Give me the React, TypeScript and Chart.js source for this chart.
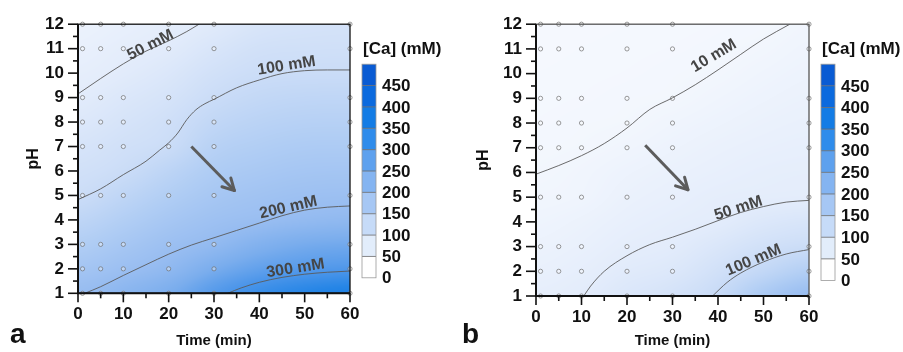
import React, { useEffect, useRef } from 'react';
import { Chart, registerables } from 'chart.js';
Chart.register(...registerables);

const FONT = "'Liberation Sans', Arial, Helvetica, sans-serif";

// ---- data ----
const sampleTimes = [1, 5, 10, 20, 30, 60];
const samplePH = [1, 2, 3, 5, 7, 8, 9, 11, 12];

const xTickValues = [0, 10, 20, 30, 40, 50, 60];
const yTickValues = [1, 2, 3, 4, 5, 6, 7, 8, 9, 10, 11, 12];

const fieldTimes = [0, 10, 20, 30, 40, 50, 60];
const fieldPH = [1, 2, 3, 4, 5, 6, 7, 8, 9, 10, 11, 12];

// [Ca] (mM), rows = pH 1..12, columns = time 0..60
const fieldA = [
  [200, 222, 248, 292, 325, 348, 362],
  [174, 193, 214, 250, 278, 293, 300],
  [148, 169, 191, 210, 236, 253, 259],
  [122, 145, 169, 187, 198, 208, 214],
  [98, 121, 147, 169, 181, 189, 192],
  [86, 99, 125, 152, 164, 172, 174],
  [75, 87, 100, 134, 147, 155, 156],
  [63, 76, 90, 116, 130, 137, 138],
  [52, 65, 78, 99, 113, 119, 120],
  [43, 53, 66, 85, 97, 100, 101],
  [35, 45, 54, 71, 85, 88, 89],
  [28, 37, 46, 57, 72, 78, 80],
];

const fieldB = [
  [42, 50, 66, 80, 105, 160, 200],
  [34, 42, 55, 64, 86, 115, 145],
  [27, 34, 45, 52, 68, 86, 98],
  [20, 27, 37, 44, 51, 64, 72],
  [14, 18, 30, 37, 44, 47, 49],
  [10, 15, 24, 31, 37, 42, 44],
  [8, 10, 16, 24, 31, 36, 39],
  [6, 8, 10, 17, 24, 30, 34],
  [5, 6, 8, 10, 17, 24, 29],
  [4, 5, 6, 8, 11, 18, 24],
  [3, 4, 5, 6, 8, 12, 19],
  [2, 3, 4, 5, 6, 8, 14],
];

const cmapValues = [0, 50, 100, 150, 200, 250, 300, 350, 400, 500];
const cmapColors = ['#f6f9fe', '#e3ecfb', '#cadcf7', '#b0cdf4', '#98bdf1', '#7aaded', '#4f97ea', '#2585e6', '#0f74df', '#075ed4'];

const colorbarLevels = [0, 50, 100, 150, 200, 250, 300, 350, 400, 450, 500];
const colorbarColors = ['#ffffff', '#e2edfb', '#c6dbf8', '#a6c7f4', '#84b4f1', '#5ea1ee', '#2f8ceb', '#137ce5', '#0b6ade', '#095bd3'];
const colorbarTickLabels = ['0', '50', '100', '150', '200', '250', '300', '350', '400', '450'];

// contour lines (time, pH)
const contourA50 = [[0, 9.15], [5, 9.78], [10, 10.38], [15, 10.9], [20, 11.32], [24, 11.7], [26.7, 12]];
const contourA100 = [[0, 4.83], [5, 5.27], [10, 5.85], [15, 6.4], [18, 6.85], [20, 7.15], [22, 7.55], [24, 8.1], [26, 8.5], [28, 8.75], [30, 8.93], [35, 9.4], [40, 9.72], [45, 9.98], [50, 10.1], [55, 10.13], [60, 10.13]];
const contourA200 = [[1.5, 1], [5, 1.27], [10, 1.73], [15, 2.17], [20, 2.6], [25, 2.97], [30, 3.27], [35, 3.57], [40, 3.87], [45, 4.17], [50, 4.4], [55, 4.52], [60, 4.57]];
const contourA300 = [[33, 1], [36, 1.22], [40, 1.45], [45, 1.65], [50, 1.78], [55, 1.86], [60, 1.91]];

const contourB10 = [[0, 5.93], [5, 6.28], [10, 6.68], [15, 7.17], [20, 7.8], [25, 8.55], [30, 9.02], [35, 9.55], [40, 10.15], [45, 10.78], [50, 11.4], [55.8, 12]];
const contourB50 = [[10.5, 1], [12, 1.4], [15, 2.0], [20, 2.63], [25, 3.08], [30, 3.38], [35, 3.7], [40, 4.05], [45, 4.38], [50, 4.62], [55, 4.8], [60, 4.87]];
const contourB100 = [[38.8, 1], [42, 1.55], [45, 1.93], [50, 2.38], [55, 2.7], [60, 2.88]];

const contourLabelsA = ['50 mM', '100 mM', '200 mM', '300 mM'];
const contourLabelsB = ['10 mM', '50 mM', '100 mM'];
// anchor (time, pH) and rotation of each contour label
const labelAnchorsA = [[16.0, 11.15, -27], [46.0, 10.3, -9], [46.4, 4.5, -13], [48, 2.02, -9]];
const labelAnchorsB = [[39.1, 10.72, -31], [44.5, 4.55, -18], [47.8, 2.45, -23]];

const arrowA = [[25, 7.0], [34.5, 5.2]];
const arrowB = [[24, 7.1], [33.4, 5.3]];

// ---- helpers ----
const hexToRgb = (h: string) => {
  const n = parseInt(h.slice(1), 16);
  return [(n >> 16) & 255, (n >> 8) & 255, n & 255];
};
const cmapRGB = cmapColors.map(hexToRgb);

function colorFor(v: number) {
  if (v <= cmapValues[0]) return cmapRGB[0];
  for (let i = 0; i < cmapValues.length - 1; i++) {
    if (v <= cmapValues[i + 1]) {
      const f = (v - cmapValues[i]) / (cmapValues[i + 1] - cmapValues[i]);
      const a = cmapRGB[i], b = cmapRGB[i + 1];
      return [a[0] + (b[0] - a[0]) * f, a[1] + (b[1] - a[1]) * f, a[2] + (b[2] - a[2]) * f];
    }
  }
  return cmapRGB[cmapRGB.length - 1];
}

function locate(arr: number[], v: number): [number, number] {
  let i = 0;
  while (i < arr.length - 2 && v > arr[i + 1]) i++;
  const f = Math.min(1, Math.max(0, (v - arr[i]) / (arr[i + 1] - arr[i])));
  return [i, f];
}

const clampI = (k: number, n: number) => Math.max(0, Math.min(n - 1, k));
const cr = (p0: number, p1: number, p2: number, p3: number, t: number) =>
  0.5 * (2 * p1 + (-p0 + p2) * t + (2 * p0 - 5 * p1 + 4 * p2 - p3) * t * t + (-p0 + 3 * p1 - 3 * p2 + p3) * t * t * t);

function sampleField(field: number[][], t: number, p: number) {
  const [ti, tf] = locate(fieldTimes, t);
  const [pi, pf] = locate(fieldPH, p);
  const nR = field.length, nC = field[0].length;
  const row = (r: number) => {
    const R = field[clampI(r, nR)];
    const c = (k: number) => R[clampI(k, nC)];
    return cr(c(ti - 1), c(ti), c(ti + 1), c(ti + 2), tf);
  };
  return cr(row(pi - 1), row(pi), row(pi + 1), row(pi + 2), pf);
}

const toXY = (arr: number[][]) => arr.map(([x, y]) => ({ x, y }));

type PanelCfg = {
  field: number[][];
  contours: number[][][];
  labels: string[];
  anchors: number[][];
  arrow: number[][];
  letter: string;
  letterX: number;
  area: { left: number; right: number; top: number; bottom: number };
  pHPad: number;
  frameColor: string;
};

function makeChart(canvas: HTMLCanvasElement, cfg: PanelCfg) {
  const points: { x: number; y: number }[] = [];
  for (const p of samplePH) for (const t of sampleTimes) points.push({ x: t, y: p });

  const lay = {
    yW: cfg.area.left,
    xH: canvas.height - cfg.area.bottom,
    top: cfg.area.top,
    right: canvas.width - cfg.area.right,
  };

  const datasets: any[] = [
    {
      type: 'scatter',
      data: points,
      pointRadius: 2.1,
      pointBorderWidth: 0.7,
      pointBorderColor: '#707070',
      pointBackgroundColor: 'rgba(255,255,255,0.35)',
      clip: false,
      order: 3,
    },
    ...cfg.contours.map((c) => ({
      type: 'line',
      data: toXY(c),
      borderColor: '#5a5a5a',
      borderWidth: 0.9,
      pointRadius: 0,
      cubicInterpolationMode: 'monotone',
      fill: false,
      order: 2,
    })),
    {
      type: 'line',
      data: toXY(cfg.arrow),
      borderColor: '#5c5c5c',
      borderWidth: 3,
      pointRadius: 0,
      fill: false,
      order: 1,
    },
  ];

  const fieldPlugin = {
    id: 'field',
    beforeDatasetsDraw(chart: any) {
      const { ctx, chartArea } = chart;
      const xs = chart.scales.x, ys = chart.scales.y;
      const w = Math.round(chartArea.right - chartArea.left);
      const h = Math.round(chartArea.bottom - chartArea.top);
      const off = document.createElement('canvas');
      off.width = w; off.height = h;
      const octx = off.getContext('2d')!;
      const img = octx.createImageData(w, h);
      for (let j = 0; j < h; j++) {
        const p = ys.getValueForPixel(chartArea.top + j + 0.5);
        for (let i = 0; i < w; i++) {
          const t = xs.getValueForPixel(chartArea.left + i + 0.5);
          const c = colorFor(sampleField(cfg.field, t, p));
          const k = (j * w + i) * 4;
          img.data[k] = c[0]; img.data[k + 1] = c[1]; img.data[k + 2] = c[2]; img.data[k + 3] = 255;
        }
      }
      octx.putImageData(img, 0, 0);
      ctx.drawImage(off, chartArea.left, chartArea.top, chartArea.right - chartArea.left, chartArea.bottom - chartArea.top);
    },
  };

  const decorPlugin = {
    id: 'decor',
    afterDatasetsDraw(chart: any) {
      const { ctx } = chart;
      const xs = chart.scales.x, ys = chart.scales.y;
      const [s, e] = cfg.arrow;
      const x0 = xs.getPixelForValue(s[0]), y0 = ys.getPixelForValue(s[1]);
      const x1 = xs.getPixelForValue(e[0]), y1 = ys.getPixelForValue(e[1]);
      const ang = Math.atan2(y1 - y0, x1 - x0);
      ctx.save();
      ctx.strokeStyle = '#5c5c5c';
      ctx.lineWidth = 3;
      ctx.lineCap = 'round';
      for (const d of [0.5, -0.5]) {
        ctx.beginPath();
        ctx.moveTo(x1, y1);
        ctx.lineTo(x1 - 13 * Math.cos(ang + d), y1 - 13 * Math.sin(ang + d));
        ctx.stroke();
      }
      ctx.restore();
      ctx.save();
      ctx.font = `bold 16px ${FONT}`;
      ctx.fillStyle = '#454545';
      ctx.textAlign = 'center';
      ctx.textBaseline = 'middle';
      cfg.labels.forEach((txt, i) => {
        const [t, p, r] = cfg.anchors[i];
        ctx.save();
        ctx.translate(xs.getPixelForValue(t), ys.getPixelForValue(p));
        ctx.rotate((r * Math.PI) / 180);
        ctx.fillText(txt, 0, 0);
        ctx.restore();
      });
      ctx.restore();
    },
    afterDraw(chart: any) {
      const { ctx, chartArea } = chart;
      const { left, right, top, bottom } = chartArea;
      const xs = chart.scales.x, ys = chart.scales.y;
      ctx.save();
      ctx.strokeStyle = cfg.frameColor;
      ctx.lineWidth = 1.3;
      ctx.strokeRect(left, top, right - left, bottom - top);
      ctx.strokeStyle = '#111';
      ctx.lineWidth = 2;
      ctx.beginPath();
      ctx.moveTo(left, top);
      ctx.lineTo(left, bottom);
      ctx.lineTo(right, bottom);
      ctx.stroke();
      ctx.lineWidth = 1.6;
      yTickValues.forEach((v, i) => {
        const py = ys.getPixelForValue(v);
        ctx.beginPath(); ctx.moveTo(left - 10, py); ctx.lineTo(left, py); ctx.stroke();
        if (i < yTickValues.length - 1) {
          const pm = ys.getPixelForValue((v + yTickValues[i + 1]) / 2);
          ctx.beginPath(); ctx.moveTo(left - 5, pm); ctx.lineTo(left, pm); ctx.stroke();
        }
      });
      xTickValues.forEach((v, i) => {
        const px = xs.getPixelForValue(v);
        ctx.beginPath(); ctx.moveTo(px, bottom); ctx.lineTo(px, bottom + 9); ctx.stroke();
        if (i < xTickValues.length - 1) {
          const pm = xs.getPixelForValue((v + xTickValues[i + 1]) / 2);
          ctx.beginPath(); ctx.moveTo(pm, bottom); ctx.lineTo(pm, bottom + 5); ctx.stroke();
        }
      });
      // colorbar
      const bl = right + 12, br = bl + 14;
      const bt = top + 40, bb = bottom - 15.5;
      const n = colorbarColors.length;
      const seg = (bb - bt) / n;
      colorbarColors.forEach((c, i) => {
        ctx.fillStyle = c;
        ctx.fillRect(bl, bb - (i + 1) * seg, br - bl, seg);
      });
      ctx.strokeStyle = '#6a6a6a';
      ctx.lineWidth = 0.8;
      for (let i = 1; i < n; i++) {
        const yy = bb - i * seg;
        ctx.beginPath(); ctx.moveTo(bl, yy); ctx.lineTo(br, yy); ctx.stroke();
      }
      ctx.strokeStyle = '#9a9a9a';
      ctx.strokeRect(bl, bt, br - bl, bb - bt);
      ctx.fillStyle = '#111';
      ctx.font = `bold 17px ${FONT}`;
      ctx.textAlign = 'left';
      ctx.textBaseline = 'middle';
      colorbarTickLabels.forEach((lab, i) => {
        const v = colorbarLevels[i];
        const yy = bb - (v / colorbarLevels[n]) * (bb - bt);
        ctx.fillText(lab, br + 6, yy + 1);
      });
      ctx.fillText('[Ca] (mM)', bl + 1, bt - 15);
      ctx.font = `bold 28px ${FONT}`;
      ctx.textBaseline = 'alphabetic';
      ctx.fillText(cfg.letter, cfg.letterX, 343);
      ctx.restore();
    },
  };

  const options: any = {
    animation: false,
    responsive: false,
    events: [],
    layout: { padding: { left: 0, right: lay.right, top: lay.top, bottom: 0 } },
    plugins: { legend: { display: false }, tooltip: { enabled: false } },
    scales: {
      x: {
        type: 'linear',
        min: 0,
        max: 60,
        afterFit: (s: any) => { s.height = lay.xH; },
        afterBuildTicks: (s: any) => { s.ticks = xTickValues.map((v) => ({ value: v })); },
        grid: { display: false, drawTicks: false },
        border: { display: false },
        ticks: { font: { family: FONT, size: 17, weight: 'bold' }, color: '#111', padding: 11, maxRotation: 0, autoSkip: false },
        title: { display: true, text: 'Time (min)', font: { family: FONT, size: 15, weight: 'bold' }, color: '#111', padding: { top: 0, bottom: 2 } },
      },
      y: {
        type: 'linear',
        min: 1,
        max: 12,
        afterFit: (s: any) => { s.width = lay.yW; },
        afterBuildTicks: (s: any) => { s.ticks = yTickValues.map((v) => ({ value: v })); },
        grid: { display: false, drawTicks: false },
        border: { display: false },
        ticks: { font: { family: FONT, size: 17, weight: 'bold' }, color: '#111', padding: 14, autoSkip: false },
        title: { display: true, text: 'pH', font: { family: FONT, size: 16, weight: 'bold' }, color: '#111', padding: { top: cfg.pHPad, bottom: 0 } },
      },
    },
  };

  const chart = new Chart(canvas, {
    type: 'scatter',
    data: { datasets },
    options,
    plugins: [fieldPlugin, decorPlugin] as any,
  });

  // nudge layout so the plotting area lands where the reference has it
  for (let iter = 0; iter < 3; iter++) {
    const ca = chart.chartArea;
    const dTop = cfg.area.top - ca.top;
    const dBottom = ca.bottom - cfg.area.bottom;
    const dLeft = cfg.area.left - ca.left;
    const dRight = ca.right - cfg.area.right;
    if (Math.abs(dTop) < 0.3 && Math.abs(dBottom) < 0.3 && Math.abs(dLeft) < 0.3 && Math.abs(dRight) < 0.3) break;
    lay.top = Math.max(0, lay.top + dTop);
    lay.xH = Math.max(10, lay.xH + dBottom);
    lay.yW = Math.max(10, lay.yW + dLeft);
    lay.right = Math.max(0, lay.right + dRight);
    options.layout.padding = { left: 0, right: lay.right, top: lay.top, bottom: 0 };
    chart.options = options;
    chart.update();
  }
  return chart;
}

const panelA: PanelCfg = {
  field: fieldA,
  contours: [contourA50, contourA100, contourA200, contourA300],
  labels: contourLabelsA,
  anchors: labelAnchorsA,
  arrow: arrowA,
  letter: 'a',
  letterX: 10,
  area: { left: 78, right: 350, top: 18.3, bottom: 293.3 },
  pHPad: 24,
  frameColor: '#111',
};

const panelB: PanelCfg = {
  field: fieldB,
  contours: [contourB10, contourB50, contourB100],
  labels: contourLabelsB,
  anchors: labelAnchorsB,
  arrow: arrowB,
  letter: 'b',
  letterX: 4,
  area: { left: 78, right: 351, top: 21, bottom: 296 },
  pHPad: 16,
  frameColor: '#555',
};

function Panel({ cfg, left, width }: { cfg: PanelCfg; left: number; width: number }) {
  const ref = useRef<HTMLCanvasElement>(null);
  useEffect(() => {
    const chart = makeChart(ref.current!, cfg);
    return () => chart.destroy();
  }, [cfg]);
  return (
    <canvas
      ref={ref}
      width={width}
      height={352}
      style={{ position: 'absolute', left, top: 0, width, height: 352 }}
    />
  );
}

export default function App() {
  return (
    <div style={{ position: 'fixed', left: 0, top: 0, width: 903, height: 352, background: '#fff', overflow: 'hidden' }}>
      <Panel cfg={panelA} left={0} width={452} />
      <Panel cfg={panelB} left={458} width={445} />
    </div>
  );
}
